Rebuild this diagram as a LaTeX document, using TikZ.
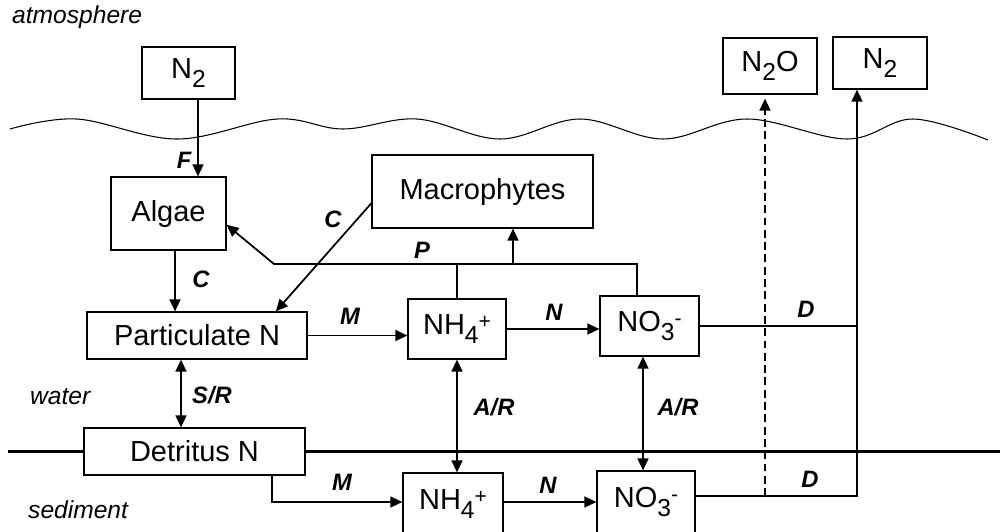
\documentclass[tikz,border=0pt]{standalone}
\usepackage{fontspec}
\setmainfont{Liberation Sans}
\usetikzlibrary{arrows.meta}

% pedici e apici come nel disegno originale
\newcommand{\chsub}[1]{\raisebox{-5.5pt}{\fontsize{14}{14}\selectfont #1}}
\newcommand{\chsup}[1]{\raisebox{3pt}{\fontsize{12}{12}\selectfont #1}}

\begin{document}
\begin{tikzpicture}[x=0.02cm, y=-0.02cm, >={Triangle[length=6.8pt,width=6.2pt]},
    line join=miter,
    box/.style={draw, line width=0.7pt, fill=white, inner sep=0pt,
        font=\fontsize{16.5}{19}\selectfont},
    flow/.style={line width=1pt},
    thinflow/.style={line width=0.7pt},
    lab/.style={font=\fontsize{13.5}{16}\selectfont\bfseries\itshape},
    zone/.style={font=\fontsize{14}{17}\selectfont\itshape, anchor=west}]

\useasboundingbox (0,0) rectangle (1000,531);

% Superficie dell'acqua
\draw[line width=0.6pt] plot[smooth, tension=0.6] coordinates {(10,129) (77,119)
    (177,139) (277,119) (343,129) (417,119) (500,139) (580,119) (663,139)
    (747,119) (847,139) (913,119) (988,140)};

% Fondale
\draw[line width=1.7pt] (8,451) -- (1000,451);

% Box
\node[box, minimum width=1.86cm, minimum height=1.04cm] (n2atm) at (188.5,73) {N\chsub{2}};
\node[box, minimum width=2.3cm, minimum height=1.46cm] (algae) at (168.5,213.5) {Algae};
\node[box, minimum width=4.42cm, minimum height=1.46cm] (macro) at (482.5,191.5) {Macrophytes};
\node[box, minimum width=4.4cm, minimum height=0.94cm] (part) at (197,335.5) {Particulate N};
\node[box, minimum width=4.42cm, minimum height=0.94cm] (detr) at (194.5,451.5) {Detritus N};
\node[box, minimum width=1.96cm, minimum height=1.2cm] (nh4w) at (457,329) {NH\chsub{4}\chsup{+}};
\node[box, minimum width=1.98cm, minimum height=1.2cm] (no3w) at (649.5,326) {NO\chsub{3}\chsup{-}};
\node[box, minimum width=2cm, minimum height=1.24cm] (nh4s) at (453,504) {NH\chsub{4}\chsup{+}};
\node[box, minimum width=1.96cm, minimum height=1.24cm] (no3s) at (646,502) {NO\chsub{3}\chsup{-}};
\node[box, minimum width=1.88cm, minimum height=1.12cm] (n2o) at (770,66) {N\chsub{2}O};
\node[box, minimum width=1.88cm, minimum height=1.04cm] (n2den) at (880,63) {N\chsub{2}};

% Punti di appoggio
\coordinate (fx) at (198,0);
\coordinate (cx) at (175,0);
\coordinate (srx) at (181,0);
\coordinate (px) at (637,0);
\coordinate (arx) at (643,0);
\coordinate (pbend) at (274,264);
\coordinate (pup) at (513,264);
\coordinate (msed) at (272,502);
\coordinate (dsed) at (857,496);
\coordinate (dn2o) at (765,496);

% Frecce
\draw[flow,->] (n2atm.south -| fx) -- (algae.north -| fx);
\draw[flow,->] (algae.south -| cx) -- (part.north -| cx);
\draw[flow,->] (macro.186) -- (part.17);
\draw[flow,->] (no3w.north -| px) |- (pbend) -- (algae.-11);
\draw[thinflow] (nh4w.north) -- (nh4w.north |- pbend);
\draw[flow,->] (pup) -- (pup |- macro.south);
\draw[flow,->] (part.east) -- (nh4w.west |- part.east);
\draw[flow,->] (nh4w.east) -- (no3w.west |- nh4w.east);
\draw[thinflow] (no3w.east) -- (no3w.east -| dsed);
\draw[flow,<->] (part.south -| srx) -- (detr.north -| srx);
\draw[flow,<->] (nh4w.south) -- (nh4s.north -| nh4w.south);
\draw[flow,<->] (no3w.south -| arx) -- (no3s.north -| arx);
\draw[flow,->] (detr.south -| msed) -- (msed) -- (nh4s.west |- msed);
\draw[flow,->] (nh4s.east |- msed) -- (no3s.west |- msed);
\draw[flow,->] (no3s.east |- dsed) -- (dsed) -- (n2den.south -| dsed);
\draw[flow,dash pattern=on 4.5pt off 2.5pt,->,shorten >=0.08cm] (dn2o) -- (n2o.south -| dn2o);

% Etichette
\node[lab] (lf) at (184,160) {F};
\node[lab] (lca) at (201,279) {C};
\node[lab] (lcm) at (333,219) {C};
\node[lab] (lp) at (422,250) {P};
\node[lab] (lmw) at (350,316) {M};
\node[lab] (lnw) at (554,312) {N};
\node[lab] (ldw) at (806,309) {D};
\node[lab] (lsr) at (212,395) {S/R};
\node[lab] (larn) at (494,407) {A/R};
\node[lab] (laro) at (678,407) {A/R};
\node[lab] (lms) at (342,482) {M};
\node[lab] (lns) at (548,485) {N};
\node[lab] (lds) at (810,479) {D};
\node[zone] (latm) at (6,17) {atmosphere};
\node[zone] (lwat) at (24,397) {water};
\node[zone] (lsed) at (22,510) {sediment};

\end{tikzpicture}
\end{document}
